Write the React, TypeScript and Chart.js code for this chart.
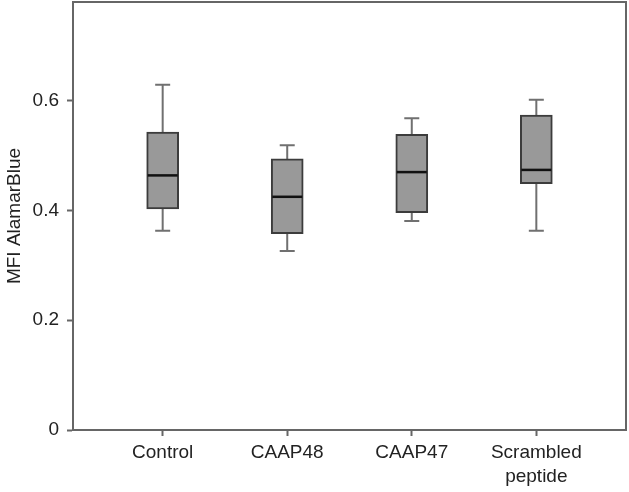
import React, { useEffect, useRef } from "react";
import { Chart, registerables } from "chart.js";

Chart.register(...registerables);

const categories: string[][] = [["Control"], ["CAAP48"], ["CAAP47"], ["Scrambled", "peptide"]];
const whiskerLow = [0.363, 0.326, 0.381, 0.363];
const q1 = [0.403, 0.358, 0.396, 0.449];
const median = [0.464, 0.425, 0.47, 0.474];
const q3 = [0.543, 0.494, 0.539, 0.574];
const whiskerHigh = [0.629, 0.519, 0.568, 0.602];
const yTicks = [0, 0.2, 0.4, 0.6];
const yTitle = "MFI AlamarBlue";

const FONT = "Arial, 'Liberation Sans', sans-serif";
const AXIS = "#666666";
const TEXT = "#222222";

const boxPlugin = {
  id: "boxExtras",
  beforeDatasetsDraw(chart: any) {
    const { ctx } = chart;
    const x = chart.scales.x;
    const y = chart.scales.y;
    ctx.save();
    ctx.strokeStyle = "#707070";
    ctx.lineWidth = 2;
    categories.forEach((_, i) => {
      const cx = x.getPixelForValue(i + 1);
      const yl = y.getPixelForValue(whiskerLow[i]);
      const yh = y.getPixelForValue(whiskerHigh[i]);
      ctx.beginPath();
      ctx.moveTo(cx, yl);
      ctx.lineTo(cx, yh);
      ctx.moveTo(cx - 7.5, yl);
      ctx.lineTo(cx + 7.5, yl);
      ctx.moveTo(cx - 7.5, yh);
      ctx.lineTo(cx + 7.5, yh);
      ctx.stroke();
    });
    ctx.restore();
  },
  afterDatasetsDraw(chart: any) {
    const { ctx, chartArea } = chart;
    const y = chart.scales.y;
    const meta = chart.getDatasetMeta(0);
    ctx.save();
    ctx.strokeStyle = "#111111";
    ctx.lineWidth = 2.5;
    meta.data.forEach((bar: any, i: number) => {
      const my = y.getPixelForValue(median[i]);
      ctx.beginPath();
      ctx.moveTo(bar.x - bar.width / 2 + 1, my);
      ctx.lineTo(bar.x + bar.width / 2 - 1, my);
      ctx.stroke();
    });
    ctx.strokeStyle = AXIS;
    ctx.lineWidth = 2;
    ctx.beginPath();
    ctx.moveTo(chartArea.left, chartArea.top);
    ctx.lineTo(chartArea.right, chartArea.top);
    ctx.lineTo(chartArea.right, chartArea.bottom);
    ctx.stroke();
    ctx.restore();
  },
};

export default function App() {
  const ref = useRef<HTMLCanvasElement | null>(null);

  useEffect(() => {
    if (!ref.current) return;
    const chart = new Chart(ref.current, {
      type: "bar",
      data: {
        datasets: [
          {
            data: categories.map((_, i) => ({ x: i + 1, y: [q1[i], q3[i]] })) as any,
            backgroundColor: "#999999",
            borderColor: "#3c3c3c",
            borderWidth: 2,
            borderSkipped: false,
            barThickness: 32,
          },
        ],
      },
      options: {
        responsive: false,
        animation: false,
        devicePixelRatio: 1,
        layout: { padding: { top: 2, right: 3, left: 0, bottom: 0 } },
        plugins: { legend: { display: false }, tooltip: { enabled: false } },
        scales: {
          x: {
            type: "linear",
            min: 0.28,
            max: 4.72,
            offset: false,
            afterBuildTicks: (scale: any) => {
              scale.ticks = categories.map((_, i) => ({ value: i + 1 }));
            },
            afterFit: (scale: any) => {
              scale.height = 62;
              scale.paddingLeft = 0;
              scale.paddingRight = 0;
            },
            grid: {
              display: true,
              offset: false,
              drawOnChartArea: false,
              drawTicks: true,
              tickLength: 6,
              tickColor: AXIS,
              tickWidth: 2,
            } as any,
            border: { display: true, color: AXIS, width: 2 },
            ticks: {
              autoSkip: false,
              maxRotation: 0,
              padding: 4,
              color: TEXT,
              font: { family: FONT, size: 19, lineHeight: 1.3 },
              callback: (v: any) => {
                const idx = Math.round(Number(v)) - 1;
                return categories[idx] ?? "";
              },
            },
          },
          y: {
            min: 0,
            max: 0.78,
            afterBuildTicks: (scale: any) => {
              scale.ticks = yTicks.map((v) => ({ value: v }));
            },
            afterFit: (scale: any) => {
              scale.width = 73;
              scale.paddingTop = 0;
              scale.paddingBottom = 0;
            },
            grid: {
              display: true,
              drawOnChartArea: false,
              drawTicks: true,
              tickLength: 6,
              tickColor: AXIS,
              tickWidth: 2,
            } as any,
            border: { display: true, color: AXIS, width: 2 },
            ticks: {
              padding: 8,
              color: TEXT,
              font: { family: FONT, size: 19 },
              callback: (v: any) => String(Number(v)),
            },
            title: {
              display: true,
              text: yTitle,
              color: TEXT,
              font: { family: FONT, size: 19 },
              padding: { top: 3, bottom: 0 },
            },
          },
        },
      },
      plugins: [boxPlugin],
    });
    return () => chart.destroy();
  }, []);

  return (
    <div style={{ position: "fixed", left: 0, top: 0, width: 629, height: 492, background: "#fff" }}>
      <canvas ref={ref} width={629} height={492} style={{ display: "block" }} />
    </div>
  );
}
